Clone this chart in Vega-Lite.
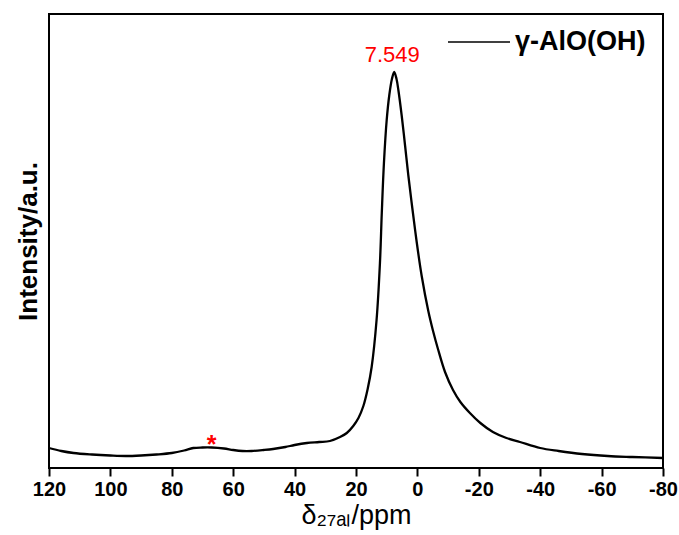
{
  "$schema": "https://vega.github.io/schema/vega-lite/v6.json",
  "width": 614,
  "height": 454,
  "autosize": {"type": "none"},
  "padding": {"left": 49, "top": 14, "right": 16, "bottom": 67},
  "background": "white",
  "config": {
    "view": {"stroke": "black", "strokeWidth": 2},
    "font": "Liberation Sans, Arial"
  },
  "datasets": {
    "spectrum": [
      {"ppm": 120, "intensity": 20},
      {"ppm": 116, "intensity": 17},
      {"ppm": 112, "intensity": 15},
      {"ppm": 106, "intensity": 13.5},
      {"ppm": 100, "intensity": 12.5},
      {"ppm": 95, "intensity": 12},
      {"ppm": 90, "intensity": 12.5},
      {"ppm": 85, "intensity": 13.5},
      {"ppm": 80, "intensity": 15},
      {"ppm": 76, "intensity": 17.5},
      {"ppm": 73, "intensity": 20},
      {"ppm": 70, "intensity": 20.5},
      {"ppm": 67, "intensity": 20.5},
      {"ppm": 63, "intensity": 19.5},
      {"ppm": 60, "intensity": 18},
      {"ppm": 57, "intensity": 17},
      {"ppm": 54, "intensity": 17},
      {"ppm": 50, "intensity": 18},
      {"ppm": 47, "intensity": 19},
      {"ppm": 43, "intensity": 21},
      {"ppm": 40, "intensity": 23},
      {"ppm": 36, "intensity": 25},
      {"ppm": 32, "intensity": 26},
      {"ppm": 28.5, "intensity": 27},
      {"ppm": 25.2, "intensity": 31},
      {"ppm": 23, "intensity": 35},
      {"ppm": 20.9, "intensity": 42},
      {"ppm": 19.2, "intensity": 50},
      {"ppm": 17.6, "intensity": 62},
      {"ppm": 16.2, "intensity": 79},
      {"ppm": 14.9, "intensity": 101},
      {"ppm": 13.3, "intensity": 148},
      {"ppm": 12.2, "intensity": 205},
      {"ppm": 11.6, "intensity": 255},
      {"ppm": 10.9, "intensity": 305},
      {"ppm": 10.0, "intensity": 348},
      {"ppm": 9.15, "intensity": 373},
      {"ppm": 8.3, "intensity": 389},
      {"ppm": 7.55, "intensity": 396},
      {"ppm": 6.8, "intensity": 389},
      {"ppm": 6.2, "intensity": 378},
      {"ppm": 5.1, "intensity": 352},
      {"ppm": 4.0, "intensity": 322},
      {"ppm": 2.97, "intensity": 293},
      {"ppm": 1.66, "intensity": 260},
      {"ppm": 0.23, "intensity": 226},
      {"ppm": -1.4, "intensity": 192},
      {"ppm": -3.55, "intensity": 157},
      {"ppm": -5.1, "intensity": 137},
      {"ppm": -6.7, "intensity": 119},
      {"ppm": -9, "intensity": 96},
      {"ppm": -11.6, "intensity": 78},
      {"ppm": -14, "intensity": 66},
      {"ppm": -17.1, "intensity": 55},
      {"ppm": -20.5, "intensity": 45},
      {"ppm": -24.6, "intensity": 36},
      {"ppm": -29, "intensity": 30},
      {"ppm": -33.4, "intensity": 26},
      {"ppm": -40, "intensity": 20},
      {"ppm": -46, "intensity": 17},
      {"ppm": -53.6, "intensity": 14},
      {"ppm": -62, "intensity": 12},
      {"ppm": -70, "intensity": 11},
      {"ppm": -80, "intensity": 10}
    ],
    "peak": [
      {"ppm": 7.549, "intensity": 397, "label": "7.549"}
    ],
    "star": [
      {"ppm": 67, "intensity": 20, "label": "*"}
    ]
  },
  "layer": [
    {
      "data": {"name": "spectrum"},
      "transform": [{"calculate": "'γ-AlO(OH)'", "as": "series"}],
      "mark": {"type": "line", "strokeWidth": 2.3, "interpolate": "catmull-rom"},
      "encoding": {
        "x": {
          "field": "ppm",
          "type": "quantitative",
          "scale": {"domain": [120, -80], "nice": false},
          "axis": {
            "values": [120, 110, 100, 90, 80, 70, 60, 50, 40, 30, 20, 10, 0, -10, -20, -30, -40, -50, -60, -70, -80],
            "labelExpr": "datum.value % 20 === 0 ? '' + datum.value : ''",
            "domain": false,
            "grid": false,
            "ticks": true,
            "tickColor": "black",
            "tickWidth": 2,
            "tickSize": {"condition": {"test": "datum.value % 20 === 0", "value": 8}, "value": 5},
            "labelFontSize": 20,
            "labelFontWeight": "bold",
            "labelColor": "black",
            "labelPadding": 3,
            "labelFlush": false,
            "labelOverlap": false,
            "title": "δ₂₇ₐₗ/ppm",
            "titleFontSize": 27,
            "titleFontWeight": "normal",
            "titleColor": "black",
            "titlePadding": 3
          }
        },
        "y": {
          "field": "intensity",
          "type": "quantitative",
          "scale": {"domain": [0, 454], "nice": false},
          "axis": {
            "labels": false,
            "ticks": false,
            "domain": false,
            "grid": false,
            "title": "Intensity/a.u.",
            "titleFontSize": 26,
            "titleFontWeight": "bold",
            "titleColor": "black",
            "titlePadding": 8
          }
        },
        "color": {
          "field": "series",
          "type": "nominal",
          "scale": {"range": ["black"]},
          "legend": {
            "orient": "none",
            "legendX": 398,
            "legendY": -4,
            "title": null,
            "symbolType": "stroke",
            "symbolSize": 3844,
            "symbolStrokeWidth": 1.5,
            "symbolStrokeColor": "black",
            "labelFontSize": 27,
            "labelFontWeight": "bold",
            "labelColor": "black",
            "labelOffset": 4
          }
        }
      }
    },
    {
      "data": {"name": "peak"},
      "mark": {"type": "text", "color": "red", "baseline": "alphabetic", "align": "center", "dx": -2, "dy": -9, "fontSize": 22},
      "encoding": {
        "x": {"field": "ppm", "type": "quantitative"},
        "y": {"field": "intensity", "type": "quantitative"},
        "text": {"field": "label"}
      }
    },
    {
      "data": {"name": "star"},
      "mark": {"type": "text", "color": "red", "baseline": "alphabetic", "align": "center", "dy": 5, "fontSize": 25, "fontWeight": "bold"},
      "encoding": {
        "x": {"field": "ppm", "type": "quantitative"},
        "y": {"field": "intensity", "type": "quantitative"},
        "text": {"field": "label"}
      }
    }
  ]
}
